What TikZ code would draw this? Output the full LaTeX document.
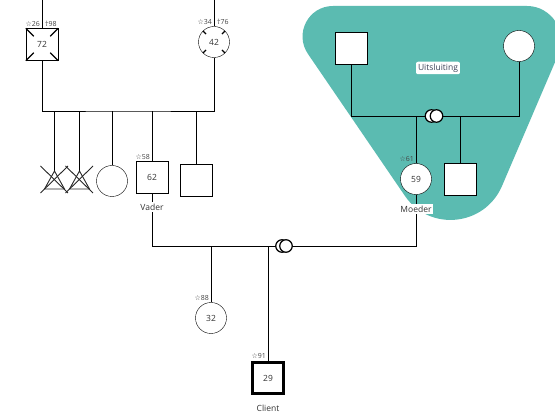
\documentclass[tikz,border=0pt]{standalone}
\usepackage{fontspec}
\setmainfont{Open Sans}
\newfontfamily\symfont{DejaVu Sans}
\usetikzlibrary{calc}
\definecolor{tealbg}{HTML}{5BBBB1}
\definecolor{txt}{HTML}{333333}
\definecolor{agetxt}{HTML}{444444}
\definecolor{navy}{HTML}{3C4258}
\pgfdeclarelayer{bgbg}
\pgfdeclarelayer{bg}
\pgfsetlayers{bgbg,bg,main}
\begin{document}
\begin{tikzpicture}[x=1pt,y=-1pt,line width=1.4pt,
  male/.style={draw=black,fill=white,minimum size=32pt,inner sep=0pt,text=txt,font=\fontsize{8.5}{10}\selectfont},
  female/.style={circle,draw=black,fill=white,minimum size=31pt,inner sep=0pt,text=txt,font=\fontsize{8.5}{10}\selectfont},
  client/.style={male,line width=3.8pt,minimum size=31pt},
  age/.style={inner sep=1pt,text=agetxt,font=\fontsize{7}{8}\selectfont},
  namelbl/.style={fill=white,inner sep=1.5pt,text=txt,font=\fontsize{8.5}{10}\selectfont},
  twin/.style={circle,draw=black,fill=white,minimum size=12.5pt,inner sep=0pt,line width=1.2pt},
  lost/.style={line width=0.9pt,draw=black!85},
  dmark/.style={line width=1.1pt}
]
\useasboundingbox (0,0) rectangle (555,417);

% ---- teal area
\begin{pgfonlayer}{bgbg}
\fill[tealbg] (333,6) -- (527,6) .. controls (551.4,6) and (568.1,31.6) .. (558.5,54)
  -- (502,186) .. controls (484.6,226.4) and (429.7,232) .. (405,196)
  -- (308,54) .. controls (294,33.6) and (308.4,6) .. (333,6) -- cycle;
\end{pgfonlayer}

% ---- generation 1
\node[male] (g72) at (42,44.5) {72};
\node[female] (g42) at (214,42) {42};
\coordinate (top72) at (42,0);
\coordinate (top42) at (214,0);
\coordinate (sib1) at (128,111);

% ---- generation 2 (father's side)
\coordinate (ab1) at (54.5,171);
\coordinate (ab2) at (79.5,171);
\node[female] (c3) at (112,181) {};
\node[male] (vader) at (152,177.5) {62};
\node[male] (c5) at (196,180.5) {};

% ---- mother's family
\node[male] (mgf) at (351,48.5) {};
\node[female] (mgm) at (519,46) {};
\node[twin] (t1a) at (431.5,116) {};
\node[twin] (t1b) at (436.5,116) {};
\node[female] (moeder) at (416,179) {59};
\node[male] (ms) at (460,179) {};

% ---- generation 3
\node[twin] (t2a) at (282,246) {};
\node[twin] (t2b) at (286,246) {};
\node[female] (zus) at (211,318) {32};
\node[client] (cl) at (268,378) {29};

% ---- connectors
\begin{pgfonlayer}{bg}
\draw (top72) -- (g72.north);
\draw (top42) -- (g42.north);
\draw (g72.south) |- (sib1) -| (g42.south);
\draw (ab1) -- (ab1 |- sib1);
\draw (ab2) -- (ab2 |- sib1);
\draw (c3.north) -- (c3.north |- sib1);
\draw (vader.north) -- (vader.north |- sib1);
\draw (c5.north) -- (c5.north |- sib1);
\draw (mgf.south) |- (t1a.center);
\draw (mgm.south) |- (t1b.center);
\draw (moeder.north) -- (moeder.north |- t1a);
\draw (ms.north) -- (ms.north |- t1a);
\draw (vader.south) |- (t2a.center);
\draw (moeder.south) |- (t2b.center);
\draw (zus.north) -- (zus.north |- t2a);
\draw (cl.north) -- (cl.north |- t2a);
\end{pgfonlayer}

% ---- lost pregnancies
\foreach \p in {ab1,ab2}{
  \draw[lost] (\p) -- ++(-10,18) -- ++(20,0) -- cycle;
  \draw[lost] ($(\p)+(-14,-5)$) -- ++(27.5,27);
  \draw[lost] ($(\p)+(13.5,-5)$) -- ++(-27.5,27);
}

% ---- deceased marks
\draw[dmark] (g72.north west) -- ++(8,8);
\draw[dmark] (g72.north east) -- ++(-8,8);
\draw[dmark] (g72.south west) -- ++(8,-8);
\draw[dmark] (g72.south east) -- ++(-8,-8);
\foreach \a in {45,135,225,315}{
  \draw[dmark] (g42.\a) -- ($(g42.\a)!4.5pt!(g42.center)$);
}

% ---- ages
\node[age,anchor=south east] (a26) at ($(g72.north)+(-1,-1)$) {{\symfont ☆}26};
\node[age,anchor=south west] (d98) at ($(g72.north)+(2,-1)$) {†98};
\node[age,anchor=south east] (a34) at ($(g42.north)+(-1,-1)$) {{\symfont ☆}34};
\node[age,anchor=south west] (d76) at ($(g42.north)+(2,-1)$) {†76};
\node[age,anchor=south east] (a58) at ($(vader.north)+(-1,-1)$) {{\symfont ☆}58};
\node[age,anchor=south east] (a61) at ($(moeder.north)+(-1,-1)$) {{\symfont ☆}61};
\node[age,anchor=south east] (a88) at ($(zus.north)+(-1,-1)$) {{\symfont ☆}88};
\node[age,anchor=south east] (a91) at ($(cl.north)+(-1,-1)$) {{\symfont ☆}91};

% ---- names
\node[namelbl] (lv) at (152,207) {Vader};
\node[namelbl] (lm) at (416,209) {Moeder};
\node[text=txt,inner sep=1pt,font=\fontsize{8.5}{10}\selectfont] (lc) at (268,408) {Client};
\node[fill=white,rounded corners=2pt,inner sep=2pt,text=navy,font=\fontsize{8.5}{10}\selectfont] (ex) at (438,68) {Uitsluiting};
\end{tikzpicture}
\end{document}
